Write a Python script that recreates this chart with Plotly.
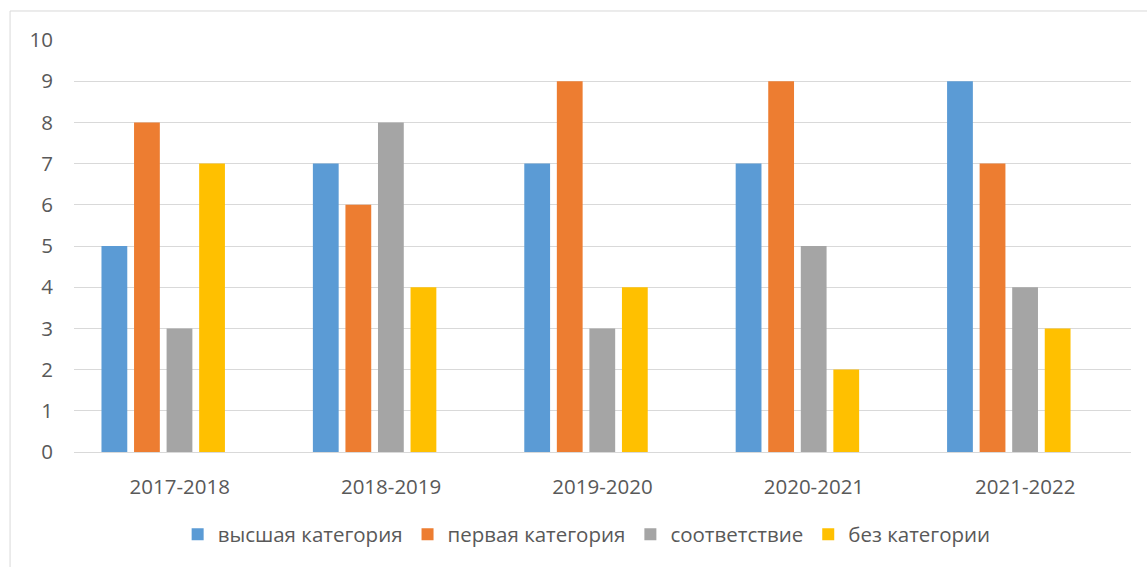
import plotly.graph_objects as go

years = ["2017-2018", "2018-2019", "2019-2020", "2020-2021", "2021-2022"]
series_names = ["высшая категория", "первая категория", "соответствие", "без категории"]
vysshaya = [5, 7, 7, 7, 9]
pervaya = [8, 6, 9, 9, 7]
sootv = [3, 8, 3, 5, 4]
bez = [7, 4, 4, 2, 3]
y_ticks = list(range(0, 11))

colors = ["#5B9BD5", "#ED7D31", "#A5A5A5", "#FFC000"]
offsets = [-0.37, -0.216, -0.062, 0.092]
values = [vysshaya, pervaya, sootv, bez]

fig = go.Figure()
for name, vals, c, off in zip(series_names, values, colors, offsets):
    fig.add_trace(go.Bar(x=years, y=vals, name=name, marker=dict(color=c, line=dict(width=0)),
                         offset=off, width=0.122))

font = dict(family="Open Sans", size=20.5, color="#595959")
fig.update_layout(
    width=1147, height=567,
    margin=dict(l=74, r=16, t=40, b=115),
    paper_bgcolor="white", plot_bgcolor="white",
    barmode="overlay",
    font=font,
    showlegend=True,
    legend=dict(orientation="h", x=0.485, xanchor="center", y=-0.2, yanchor="middle",
                font=font, itemwidth=30, traceorder="normal"),
    xaxis=dict(showgrid=False, showline=False, zeroline=False, ticks="",
               ticklabelstandoff=20, tickfont=font),
    yaxis=dict(range=[0, 10], tickvals=y_ticks, showgrid=True, gridcolor="#D9D9D9", gridwidth=1,
               zeroline=True, zerolinecolor="#D9D9D9", zerolinewidth=1, showline=False, ticks="",
               ticklabelstandoff=20, tickfont=font),
    shapes=[dict(type="rect", xref="paper", yref="paper", x0=-0.0605, x1=1.2, y0=-0.6, y1=1.0704,
                 line=dict(color="#D9D9D9", width=1), fillcolor="rgba(0,0,0,0)", layer="below")],
)
fig.write_html("out.html", config={"displayModeBar": False},
               post_script="document.body.style.margin='0';")
